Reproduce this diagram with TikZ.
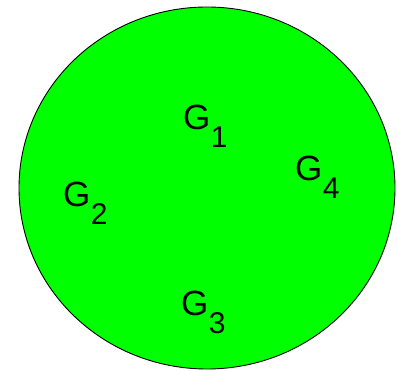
\documentclass[tikz,border=0pt]{standalone}
\usepackage{fontspec}
\setmainfont{Liberation Sans}
\usetikzlibrary{positioning,shapes.geometric}
\newcommand{\grpname}[1]{G\kern0.5pt\raisebox{-18pt}{\fontsize{30}{34}\selectfont #1}}
\begin{document}
\begin{tikzpicture}[
  x=1pt,y=1pt,
  blob/.style={ellipse,draw=black,line width=0.9pt,fill=green,minimum width=376pt,minimum height=362pt,inner sep=0pt},
  lbl/.style={anchor=base west,inner sep=0pt,font=\fontsize{35}{40}\selectfont}
]
\useasboundingbox (0,0) rectangle (397,-371);
\node[blob] (grp) at (207,-188) {};
\node[lbl] (g1) at (183,-130) {\grpname{1}};
\node[lbl] (g2) at (63,-207) {\grpname{2}};
\node[lbl] (g3) at (181,-316) {\grpname{3}};
\node[lbl] (g4) at (295,-181) {\grpname{4}};
\end{tikzpicture}
\end{document}
